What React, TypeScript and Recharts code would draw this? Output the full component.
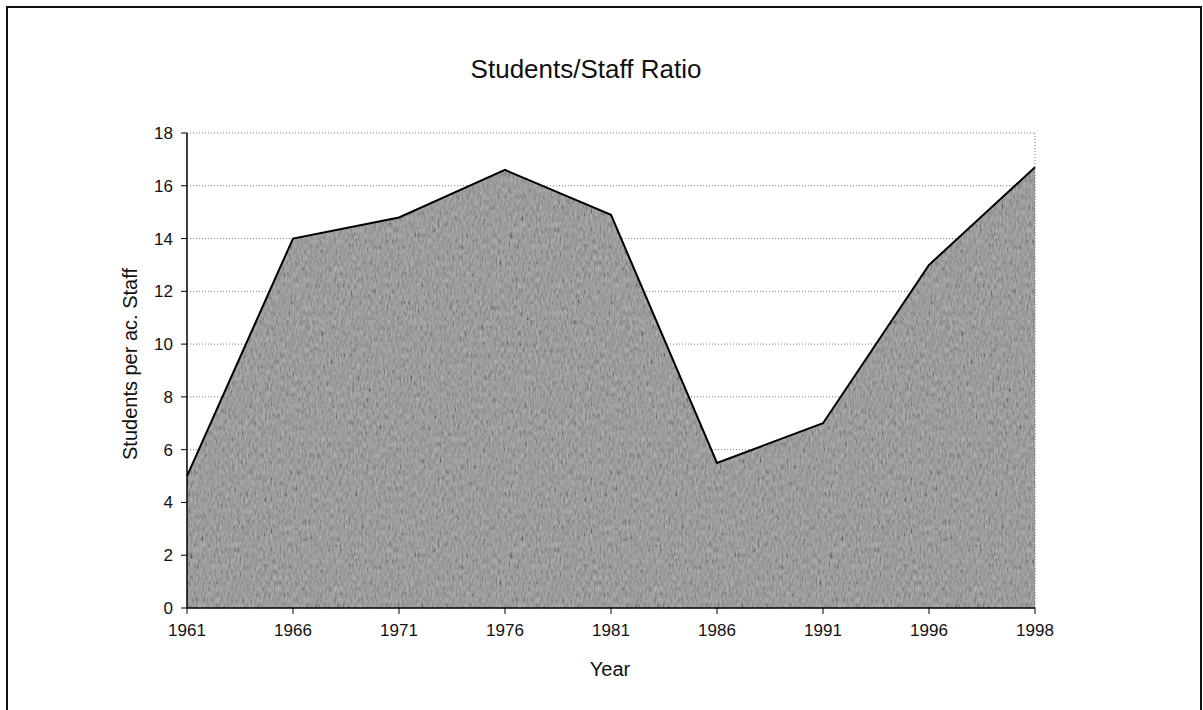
import { AreaChart, Area, XAxis, YAxis, CartesianGrid, ReferenceLine } from 'recharts'

const YEARS = ['1961', '1966', '1971', '1976', '1981', '1986', '1991', '1996', '1998']
const RATIO = [5, 14, 14.8, 16.6, 14.9, 5.5, 7, 13, 16.7]
const Y_TICKS = [0, 2, 4, 6, 8, 10, 12, 14, 16, 18]

const FONT = '"Liberation Sans", Arial, sans-serif'

export default function App() {
  const data = YEARS.map((year, i) => ({ year, ratio: RATIO[i] }))

  return (
    <div
      style={{
        position: 'absolute',
        left: 0,
        top: 0,
        width: 1203,
        height: 710,
        background: '#fff',
        overflow: 'hidden',
        fontFamily: FONT,
      }}
    >
      <div
        style={{
          position: 'absolute',
          left: 6,
          top: 6,
          width: 1196,
          height: 730,
          border: '2px solid #111',
          boxSizing: 'border-box',
        }}
      />
      <AreaChart
        width={1203}
        height={710}
        data={data}
        margin={{ top: 133, right: 168, left: 127, bottom: 72 }}
        style={{ position: 'absolute', left: 0, top: 0 }}
      >
        <defs>
          {/* scanned, grainy grey fill */}
          <filter id="grain" x="0" y="0" width="100%" height="100%">
            <feTurbulence type="fractalNoise" baseFrequency="0.55 0.18" numOctaves={3} seed={7} />
            <feColorMatrix
              type="matrix"
              values="0.33 0.33 0.33 0 0  0.33 0.33 0.33 0 0  0.33 0.33 0.33 0 0  0 0 0 0 1"
            />
            <feComponentTransfer>
              <feFuncR type="linear" slope={2.2} intercept={-0.6} />
              <feFuncG type="linear" slope={2.2} intercept={-0.6} />
              <feFuncB type="linear" slope={2.2} intercept={-0.6} />
            </feComponentTransfer>
          </filter>
          <pattern id="tex" width={320} height={320} patternUnits="userSpaceOnUse">
            <rect width={320} height={320} fill="#8c8c8c" />
            <rect width={320} height={320} fill="#fff" filter="url(#grain)" opacity={0.35} />
          </pattern>
        </defs>
        <CartesianGrid vertical={false} stroke="#777" strokeDasharray="1 2" />
        <ReferenceLine x="1998" stroke="#777" strokeDasharray="1 2" />
        <XAxis
          dataKey="year"
          interval={0}
          height={30}
          tickSize={6}
          tickMargin={10}
          axisLine={{ stroke: '#000', strokeWidth: 1.5 }}
          tickLine={{ stroke: '#000' }}
          tick={{ fill: '#111', fontSize: 17, fontFamily: FONT }}
        />
        <YAxis
          domain={[0, 18]}
          ticks={Y_TICKS}
          interval={0}
          width={60}
          tickSize={6}
          tickMargin={8}
          axisLine={{ stroke: '#000', strokeWidth: 1.5 }}
          tickLine={{ stroke: '#000' }}
          tick={{ fill: '#111', fontSize: 17, fontFamily: FONT }}
        />
        <Area
          type="linear"
          dataKey="ratio"
          stroke="#000"
          strokeWidth={2}
          fill="url(#tex)"
          fillOpacity={1}
          isAnimationActive={false}
        />
      </AreaChart>
      <div
        style={{
          position: 'absolute',
          left: 386,
          width: 400,
          top: 54,
          textAlign: 'center',
          fontSize: 26,
          lineHeight: '30px',
          color: '#111',
        }}
      >
        Students/Staff Ratio
      </div>
      <div
        style={{
          position: 'absolute',
          left: 510,
          width: 200,
          top: 657,
          textAlign: 'center',
          fontSize: 20,
          lineHeight: '24px',
          color: '#111',
        }}
      >
        Year
      </div>
      <div
        style={{
          position: 'absolute',
          left: 130 - 150,
          top: 364 - 12,
          width: 300,
          textAlign: 'center',
          fontSize: 20,
          lineHeight: '24px',
          color: '#111',
          transform: 'rotate(-90deg)',
        }}
      >
        Students per ac. Staff
      </div>
    </div>
  )
}
